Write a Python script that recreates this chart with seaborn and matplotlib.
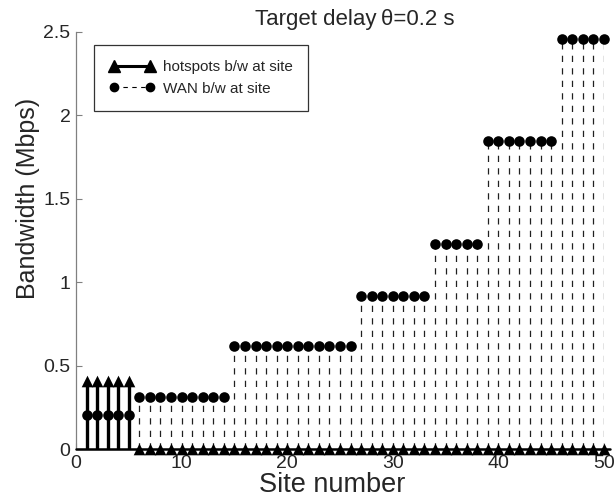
import numpy as np
import pandas as pd
import matplotlib
matplotlib.use("Agg")
import matplotlib.pyplot as plt
from matplotlib.lines import Line2D
import seaborn as sns

# Per-site bandwidth (Mbps) for sites 1..50
sites = list(range(1, 51))
hotspot_bw = [0.41] * 5 + [0.0] * 45
wan_bw = ([0.205] * 5 + [0.31] * 9 + [0.615] * 12 + [0.92] * 7
          + [1.23] * 5 + [1.845] * 7 + [2.46] * 5)

x_ticks = [0, 10, 20, 30, 40, 50]
y_ticks = [0, 0.5, 1, 1.5, 2, 2.5]
y_tick_labels = ["0", "0.5", "1", "1.5", "2", "2.5"]

df = pd.DataFrame({"site": sites, "hotspot": hotspot_bw, "wan": wan_bw})

sns.set_theme(style="white")
plt.rcParams["font.family"] = ["Liberation Sans", "DejaVu Sans"]

fig = plt.figure(figsize=(6.16, 4.99), dpi=100)
ax = fig.add_axes([0.1234, 0.100, 0.857, 0.836])

# WAN bandwidth: thin dashed stems with filled circles
ax.vlines(df["site"], 0, df["wan"], colors="#202020", linewidth=0.9,
          linestyles=(0, (5, 5)), zorder=2)
sns.scatterplot(data=df, x="site", y="wan", marker="o", s=58, color="black",
                edgecolor="black", linewidth=0, ax=ax, zorder=3, clip_on=False)

# Hotspot bandwidth: thick solid stems with triangles
ax.vlines(df["site"], 0, df["hotspot"], colors="black", linewidth=2.4, zorder=4)
ax.plot([0, 50.6], [0, 0], color="black", linewidth=1.8, zorder=4, clip_on=False)
sns.scatterplot(data=df, x="site", y="hotspot", marker="^", s=70, color="black",
                edgecolor="black", linewidth=0, ax=ax, zorder=5, clip_on=False)

ax.set_xlim(0, 50)
ax.set_ylim(0, 2.5)
ax.set_xticks(x_ticks)
ax.set_yticks(y_ticks)
ax.set_yticklabels(y_tick_labels)
ax.tick_params(axis="both", direction="in", length=4, width=0.8,
               color="#808080", labelsize=14, pad=4, bottom=True, left=True)
for side in ("top", "right"):
    ax.spines[side].set_visible(False)
for side in ("left", "bottom"):
    ax.spines[side].set_color("#808080")
    ax.spines[side].set_linewidth(0.9)

ax.set_xlabel("Site number", fontsize=19.5)
ax.xaxis.set_label_coords(0.485, -0.054)
ax.set_ylabel("Bandwidth (Mbps)", fontsize=18)
ax.yaxis.set_label_coords(-0.068, 0.60)
ax.set_title("Target delay\u2009θ=0.2 s", fontsize=16, x=0.528, y=1.017, pad=0)

handles = [
    Line2D([], [], color="black", linewidth=2.2, marker="^", markersize=9),
    Line2D([], [], color="black", linewidth=0.8, linestyle=(0, (4, 4)),
           marker="o", markersize=6),
]
leg = ax.legend(handles, ["hotspots b/w at site", "WAN b/w at site"],
                loc="upper left", bbox_to_anchor=(0.034, 0.969),
                borderaxespad=0, numpoints=2, handlelength=3.0,
                handletextpad=0.5, labelspacing=0.5, fontsize=11,
                frameon=True, fancybox=False, borderpad=1.0)
leg.get_frame().set_edgecolor("black")
leg.get_frame().set_linewidth(0.9)

fig.savefig("out.png", dpi=100)
